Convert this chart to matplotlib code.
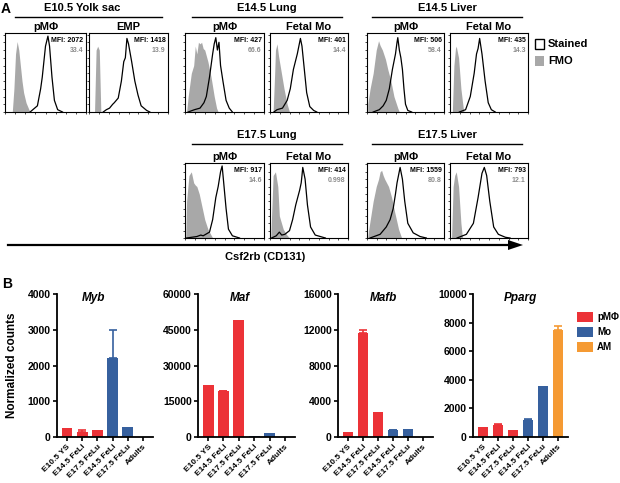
import numpy as np
import matplotlib
matplotlib.use('Agg')
import matplotlib.pyplot as plt
from matplotlib.patches import Rectangle, Polygon

plt.rcParams['font.family'] = ['Liberation Sans', 'DejaVu Sans']
plt.rcParams['font.weight'] = 'bold'

W, H = 620, 483

# ---- panel A: flow histograms, (x %, height %) ----
ys_pm_fmo = [(9, 0), (11, 30), (13, 75), (15, 91), (17, 80), (19, 60), (21, 40), (23, 25), (26, 12), (30, 2), (31, 0)]
ys_pm_st = [(31, 0), (40, 8), (44, 30), (46, 45), (50, 85), (53, 98), (55, 85), (58, 45), (61, 15), (65, 3), (71, 0)]
ys_emp_fmo = [(7, 0), (8, 40), (9, 80), (11, 85), (13, 80), (14, 40), (15, 0)]
ys_emp_st = [(18, 0), (22, 3), (26, 5), (30, 10), (32, 12), (37, 18), (41, 40), (44, 65), (46, 70), (48, 95),
             (50, 88), (54, 65), (58, 40), (62, 22), (66, 8), (73, 2), (77, 0)]
lu14_pm_fmo = [(2, 0), (4, 20), (8, 50), (11, 60), (13, 85), (15, 75), (17, 90), (19, 88), (21, 90), (23, 82),
               (25, 80), (29, 65), (33, 45), (37, 20), (40, 5), (42, 0)]
lu14_pm_st = [(4, 0), (12, 3), (19, 5), (24, 12), (27, 20), (31, 45), (35, 75), (37, 88), (39, 96), (41, 80),
              (43, 90), (44, 75), (45, 60), (48, 40), (52, 15), (56, 5), (60, 0)]
lu14_mo_fmo = [(4, 0), (6, 50), (7, 80), (9, 88), (11, 72), (13, 60), (18, 30), (22, 10), (25, 0)]
lu14_mo_st = [(5, 0), (9, 3), (16, 5), (22, 15), (26, 30), (30, 55), (35, 75), (37, 85), (39, 95), (41, 85),
              (44, 55), (47, 25), (51, 7), (56, 2), (60, 0)]
li14_pm_fmo = [(1, 10), (4, 30), (8, 50), (12, 80), (15, 92), (17, 86), (20, 80), (24, 68), (27, 55), (31, 40),
               (35, 20), (40, 5), (42, 0)]
li14_pm_st = [(8, 0), (16, 3), (21, 8), (25, 15), (29, 30), (33, 55), (37, 75), (39, 90), (40, 96), (42, 80),
              (44, 70), (46, 55), (48, 30), (50, 10), (53, 2), (58, 0)]
li14_mo_fmo = [(3, 0), (5, 60), (7, 82), (8, 85), (11, 70), (14, 30), (17, 5), (18, 0)]
li14_mo_st = [(12, 0), (20, 3), (26, 20), (31, 50), (34, 75), (36, 82), (38, 95), (41, 75), (45, 40),
              (49, 12), (53, 3), (58, 0)]
lu17_pm_fmo = [(1, 0), (2, 50), (5, 85), (8, 90), (11, 75), (13, 72), (15, 70), (18, 60), (21, 45), (25, 25),
               (29, 12), (33, 4), (35, 0)]
lu17_pm_st = [(2, 0), (15, 2), (20, 4), (23, 3), (31, 8), (35, 25), (39, 55), (42, 70), (45, 90), (47, 98),
              (49, 75), (52, 40), (55, 12), (60, 3), (69, 0)]
lu17_mo_fmo = [(1, 0), (2, 30), (4, 85), (7, 90), (10, 70), (12, 30), (17, 12), (21, 5), (25, 0)]
lu17_mo_st = [(2, 0), (8, 3), (12, 8), (15, 4), (19, 5), (25, 10), (29, 25), (33, 45), (38, 65), (40, 75),
              (41, 85), (42, 96), (45, 80), (48, 45), (52, 15), (58, 4), (71, 0)]
li17_pm_fmo = [(1, 0), (2, 10), (8, 50), (12, 70), (15, 80), (17, 90), (19, 92), (21, 85), (23, 80), (28, 70),
               (32, 55), (36, 35), (41, 12), (45, 0)]
li17_pm_st = [(4, 0), (17, 5), (25, 15), (30, 25), (34, 40), (37, 60), (39, 75), (43, 96), (46, 80),
              (49, 50), (53, 20), (60, 7), (69, 2), (77, 0)]
li17_mo_fmo = [(2, 0), (4, 70), (6, 85), (8, 90), (11, 70), (14, 20), (16, 0)]
li17_mo_st = [(9, 0), (21, 5), (30, 20), (36, 55), (41, 88), (44, 96), (47, 85), (51, 50), (56, 15),
              (62, 5), (71, 1), (77, 0)]

mfi_vals = ['2072', '1418', '427', '401', '506', '435', '917', '414', '1559', '793']
pct_vals = ['33.4', '13.9', '66.6', '14.4', '58.4', '14.3', '14.6', '0.998', '80.8', '12.1']
sub_labels = ['pMΦ', 'EMP', 'pMΦ', 'Fetal Mo', 'pMΦ', 'Fetal Mo', 'pMΦ', 'Fetal Mo', 'pMΦ', 'Fetal Mo']
curves = [(ys_pm_fmo, ys_pm_st), (ys_emp_fmo, ys_emp_st), (lu14_pm_fmo, lu14_pm_st), (lu14_mo_fmo, lu14_mo_st),
          (li14_pm_fmo, li14_pm_st), (li14_mo_fmo, li14_mo_st), (lu17_pm_fmo, lu17_pm_st),
          (lu17_mo_fmo, lu17_mo_st), (li17_pm_fmo, li17_pm_st), (li17_mo_fmo, li17_mo_st)]

# ---- panel B: normalized counts ----
groups = ['E10.5 YS', 'E14.5 FeLi', 'E17.5 FeLu', 'E14.5 FeLi', 'E17.5 FeLu', 'Adults']
cell_type = ['pMΦ', 'pMΦ', 'pMΦ', 'Mo', 'Mo', 'AM']
myb = [265, 145, 185, 2200, 285, 5]
myb_err = [0, 45, 0, 800, 0, 0]
maf = [22000, 19200, 49000, 550, 1850, 40]
maf_err = [0, 300, 0, 0, 0, 0]
mafb = [520, 11650, 2780, 740, 880, 40]
mafb_err = [0, 350, 0, 60, 0, 0]
pparg = [700, 820, 470, 1215, 3600, 7480]
pparg_err = [0, 110, 0, 45, 0, 300]

colors = {'pMΦ': '#ec3237', 'Mo': '#36609e', 'AM': '#f59a33'}
grey = '#a8a8a8'

fig = plt.figure(figsize=(6.2, 4.83), dpi=100)


def px_axes(x0, y0, x1, y1):
    return fig.add_axes([x0 / W, 1 - y1 / H, (x1 - x0) / W, (y1 - y0) / H])


# overlay in pixel coordinates for headers, lines, arrow and legends
ov = fig.add_axes([0, 0, 1, 1])
ov.set_xlim(0, W)
ov.set_ylim(H, 0)
ov.axis('off')
ov.set_zorder(10)

# histogram boxes
boxes = [(5, 33, 86, 112), (89, 33, 168, 112), (185, 33, 264, 112), (270, 33, 348, 112),
         (367, 33, 444, 112), (450, 33, 528, 112),
         (185, 163, 264, 238), (270, 163, 348, 238), (367, 163, 444, 238), (450, 163, 528, 238)]

for i, (x0, y0, x1, y1) in enumerate(boxes):
    ax = px_axes(x0, y0, x1, y1)
    fmo, st = curves[i]
    fx, fy = zip(*fmo)
    sx, sy = zip(*st)
    ax.fill_between(fx, fy, 0, color=grey, lw=0)
    ax.plot(sx, sy, color='black', lw=0.9)
    ax.set_xlim(0, 100)
    ax.set_ylim(0, 102)
    ax.set_xticks(np.arange(0, 101, 12.5))
    ax.set_yticks(np.arange(0, 101, 10))
    ax.tick_params(length=1.5, width=0.5, labelleft=False, labelbottom=False)
    for s in ax.spines.values():
        s.set_linewidth(0.8)
    ax.text(0.97, 0.95, 'MFI: ' + mfi_vals[i], transform=ax.transAxes, ha='right', va='top',
            fontsize=5, fontweight='bold')
    ax.text(0.97, 0.82, pct_vals[i], transform=ax.transAxes, ha='right', va='top',
            fontsize=5, fontweight='bold', color='#8c8c8c')
    ov.text((x0 + x1) / 2, y0 - 6, sub_labels[i], ha='center', va='center', fontsize=8, fontweight='bold')

headers = [('E10.5 Yolk sac', 82, 8, 15, 162), ('E14.5 Lung', 267, 8, 192, 342), ('E14.5 Liver', 447, 8, 372, 522),
           ('E17.5 Lung', 267, 135, 192, 342), ('E17.5 Liver', 447, 135, 372, 522)]
for txt, cx, cy, lx0, lx1 in headers:
    ov.text(cx, cy, txt, ha='center', va='center', fontsize=8, fontweight='bold')
    ov.plot([lx0, lx1], [cy + 9, cy + 9], color='black', lw=1.0)

ov.text(6, 9, 'A', ha='center', va='center', fontsize=10, fontweight='bold')
ov.text(7, 284, 'B', ha='center', va='center', fontsize=10, fontweight='bold')

# axis arrow
ov.plot([8, 510], [245, 245], color='black', lw=1.6)
ov.add_patch(Polygon([[508, 240], [523, 245], [508, 250]], closed=True, color='black', lw=0))
ov.text(265, 257, 'Csf2rb (CD131)', ha='center', va='center', fontsize=8, fontweight='bold')

# legend A
ov.add_patch(Rectangle((535, 39), 9, 10, fill=False, ec='black', lw=1.0))
ov.add_patch(Rectangle((535, 56), 9, 10, color=grey, lw=0))
ov.text(548, 44, 'Stained', va='center', fontsize=8, fontweight='bold')
ov.text(548, 61, 'FMO', va='center', fontsize=8, fontweight='bold')

# ---- bar charts ----
bar_axes = [(57, 153, 'Myb', myb, myb_err, 4000, 1000, 93),
            (198, 295, 'Maf', maf, maf_err, 60000, 15000, 240),
            (338, 433, 'Mafb', mafb, mafb_err, 16000, 4000, 383),
            (473, 568, 'Pparg', pparg, pparg_err, 10000, 2000, 520)]
x = np.arange(len(groups))
bar_cols = [colors[c] for c in cell_type]
for x0, x1, gene, vals, errs, ymax, step, tx in bar_axes:
    ax = px_axes(x0, 294, x1, 437)
    ax.bar(x, vals, width=0.72, color=bar_cols)
    for xi, v, e, c in zip(x, vals, errs, bar_cols):
        if e > 0:
            ax.errorbar(xi, v, yerr=[[0], [e]], fmt='none', ecolor=c, elinewidth=1.2, capsize=3, capthick=1.2)
    ax.set_xlim(-0.66, len(groups) - 0.34)
    ax.set_ylim(0, ymax)
    ax.set_yticks(np.arange(0, ymax + 1, step))
    ax.set_xticks(x)
    ax.set_xticklabels(groups, rotation=45, ha='right', rotation_mode='anchor', fontsize=6, fontweight='bold')
    for lab in ax.get_yticklabels():
        lab.set_fontweight('bold')
        lab.set_fontsize(7.5)
    ax.tick_params(length=3, width=1.2, pad=1.5)
    ax.spines[['top', 'right']].set_visible(False)
    ax.spines[['left', 'bottom']].set_linewidth(1.3)
    ax.set_zorder(5)
    ov.text(tx, 298, gene, ha='center', va='center', fontsize=8.5, fontweight='bold', style='italic')

ov.text(12, 365, 'Normalized counts', rotation=90, ha='center', va='center', fontsize=8.5, fontweight='bold')

# legend B
for lab, yy in zip(['pMΦ', 'Mo', 'AM'], [317, 332, 347]):
    ov.add_patch(Rectangle((577, yy - 5), 16, 10, color=colors[lab], lw=0))
    ov.text(597, yy, lab, va='center', fontsize=7, fontweight='bold')

fig.savefig('out.png', dpi=100)
